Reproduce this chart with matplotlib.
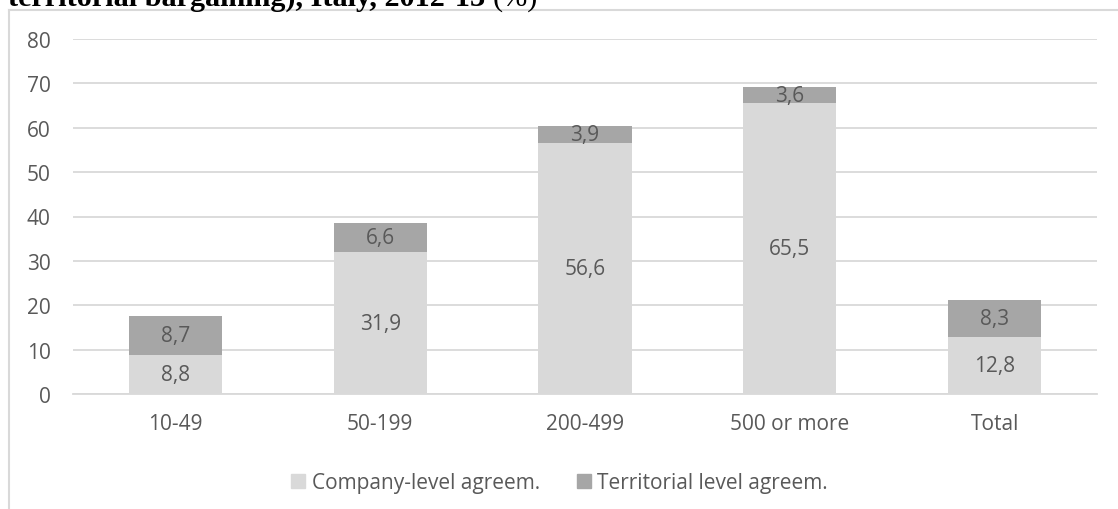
import matplotlib
matplotlib.use("Agg")
import matplotlib.pyplot as plt
from matplotlib.lines import Line2D
import numpy as np

categories = ["10-49", "50-199", "200-499", "500 or more", "Total"]
company = [8.8, 31.9, 56.6, 65.5, 12.8]
territorial = [8.7, 6.6, 3.9, 3.6, 8.3]
series_names = ["Company-level agreem.", "Territorial level agreem."]
caption = "territorial bargaining), Italy, 2012-13"

c_company = "#d9d9d9"
c_territ = "#a6a6a6"
txt = "#595959"
font = "Open Sans"

W, H = 1118, 510
fig = plt.figure(figsize=(W / 100, H / 100), dpi=100)
renderer = fig.canvas.get_renderer()


def fit_size(s, width_px, **kw):
    # font size that makes the string about width_px wide
    t = fig.text(0, 0, s, fontsize=10, **kw)
    w = t.get_window_extent(renderer).width
    t.remove()
    return 10 * width_px / w


fs = fit_size(series_names[0], 229, family=font)
cap_fs = fit_size(caption, 479, family="Liberation Serif", fontweight="bold")

ax = fig.add_axes([73 / W, 1 - 395 / H, (1097 - 73) / W, (395 - 40) / H])

x = np.arange(len(categories))
ax.bar(x, company, width=0.455, color=c_company, label=series_names[0], zorder=2)
ax.bar(x, territorial, width=0.455, bottom=company, color=c_territ,
       label=series_names[1], zorder=2)

for i in range(len(categories)):
    ax.text(x[i], company[i] / 2, f"{company[i]:.1f}".replace(".", ","),
            ha="center", va="center", color=txt, fontsize=fs, family=font, zorder=3)
    ax.text(x[i], company[i] + territorial[i] / 2, f"{territorial[i]:.1f}".replace(".", ","),
            ha="center", va="center", color=txt, fontsize=fs, family=font, zorder=3)

ax.set_xlim(-0.5, len(categories) - 0.5)
ax.set_ylim(0, 80)
ax.set_yticks(range(0, 81, 10))
ax.set_xticks(x)
ax.set_xticklabels(categories)
ax.yaxis.grid(True, color="#d9d9d9", linewidth=1.3, zorder=0)
ax.set_axisbelow(True)
for s in ["top", "right", "left"]:
    ax.spines[s].set_visible(False)
ax.spines["bottom"].set_color("#d9d9d9")
ax.spines["bottom"].set_linewidth(1.3)
ax.tick_params(axis="both", length=0, colors=txt, labelsize=fs)
ax.tick_params(axis="y", pad=16)
ax.tick_params(axis="x", pad=14)
for lab in ax.get_xticklabels() + ax.get_yticklabels():
    lab.set_family(font)

handles = [plt.Line2D([], [], marker="s", linestyle="none", markersize=10,
                      markerfacecolor=c, markeredgecolor=c) for c in (c_company, c_territ)]
leg = fig.legend(handles, series_names, loc="center", bbox_to_anchor=(560 / W, 1 - 484 / H),
                 ncol=2, frameon=False, handlelength=0.6, handletextpad=0.35,
                 columnspacing=1.8, prop={"family": font, "size": fs})
for t in leg.get_texts():
    t.set_color(txt)

# chart area frame (left and top edges visible)
fig.add_artist(Line2D([9 / W, 9 / W], [0, 1 - 11 / H], transform=fig.transFigure,
                      color="#d9d9d9", linewidth=1.5))
fig.add_artist(Line2D([9 / W, 1], [1 - 11 / H, 1 - 11 / H], transform=fig.transFigure,
                      color="#d9d9d9", linewidth=1.5))

# caption of the page above, cut off by the crop
t1 = fig.text(8 / W, 1 - 6 / H, caption, fontsize=cap_fs, fontweight="bold",
              family="Liberation Serif", va="baseline", ha="left", color="black")
bb = t1.get_window_extent(renderer)
fig.text((bb.x1 + 7) / W, 1 - 6 / H, "(%)", fontsize=cap_fs, family="Liberation Serif",
         va="baseline", ha="left", color="black")

fig.savefig("out.png", dpi=100)
